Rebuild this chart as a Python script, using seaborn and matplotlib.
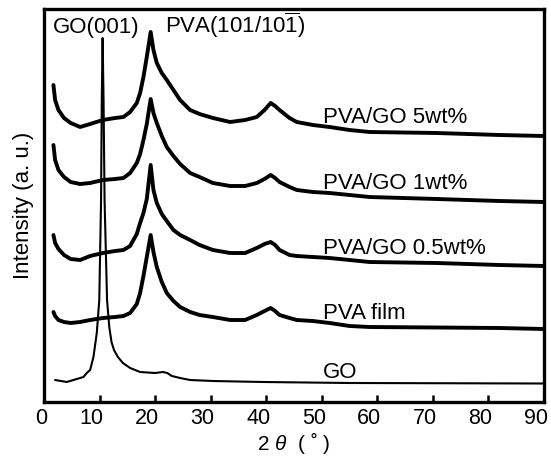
import matplotlib
matplotlib.use("Agg")
import matplotlib.pyplot as plt
import matplotlib.transforms as mtransforms
import seaborn as sns
import pandas as pd

# ---- data (2theta in degrees, intensity in arbitrary units) ----
two_theta_pva = [1.7, 2.0, 2.6, 3.6, 4.8, 6.5, 8.3, 10.6, 12.8, 14.3, 15.5, 16.7, 17.3,
                 17.9, 18.5, 19.2, 19.7, 20.3, 21.2, 22.1, 23.3, 24.5, 26.3, 28.0, 30.4,
                 33.5, 36.2, 38.3, 39.7, 40.8, 41.6, 42.4, 44.2, 45.5, 48.4, 51.4, 55.0,
                 58.6, 70.7, 82.0, 90.0]

pva_go_5 = [317, 302, 292, 284, 279, 275, 278, 282, 284, 285, 290, 299, 309,
            325, 345, 370, 352, 339, 329, 322, 312, 302, 292, 288, 284,
            280, 282, 285, 292, 299, 296, 292, 284, 280, 277, 275, 272,
            270, 269, 267, 266]

pva_go_1 = [257, 242, 232, 225, 220, 218, 219, 222, 223, 224, 229, 239, 248,
            262, 278, 303, 289, 279, 266, 255, 246, 238, 229, 225, 219,
            216, 216, 219, 223, 227, 224, 220, 215, 212, 210, 209, 207,
            205, 203, 201, 200]

pva_go_05 = [167, 159, 153, 147, 143, 142, 146, 149, 151, 152, 156, 168, 179,
             189, 203, 237, 212, 199, 188, 181, 172, 167, 162, 157, 152,
             149, 149, 154, 158, 160, 157, 152, 147, 146, 145, 144, 142,
             140, 139, 137, 136]

pva_film = [90, 86, 82, 80, 79, 80, 82, 84, 85, 86, 89, 98, 109,
            126, 145, 167, 150, 135, 120, 109, 101, 95, 90, 87, 85,
            82, 82, 87, 91, 94, 91, 87, 84, 82, 81, 79, 76,
            75, 74.5, 74, 73]

two_theta_go = [2.0, 4.1, 5.3, 7.1, 7.7, 8.3, 8.9, 9.5, 9.95, 10.27, 10.4, 10.55, 10.72,
                10.9, 11.35, 11.75, 12.15, 12.6, 13.3, 14.2, 15.5, 17.3, 20.0, 21.4,
                22.2, 23.0, 24.5, 26.3, 30.4, 39.4, 55.0, 90.0]
go = [22, 20, 22, 25, 29, 32, 45, 69, 102, 202, 302, 364, 302,
      202, 102, 75, 60, 52, 45, 39, 34, 30, 29, 30,
      29, 26, 24, 22, 21, 20, 19, 18.5]

series_names = ["PVA/GO 5wt%", "PVA/GO 1wt%", "PVA/GO 0.5wt%", "PVA film"]
label_y = [278.7, 212.7, 148, 83]
go_label = "GO"
go_label_y = 23.7
xticks = [0, 10, 20, 30, 40, 50, 60, 70, 80, 90]

# ---- build long table ----
rows = []
for name, vals in zip(series_names, [pva_go_5, pva_go_1, pva_go_05, pva_film]):
    for x, y in zip(two_theta_pva, vals):
        rows.append({"two_theta": x, "intensity": y, "sample": name})
df_pva = pd.DataFrame(rows)
df_go = pd.DataFrame({"two_theta": two_theta_go, "intensity": go, "sample": "GO"})

sns.set_style("white")
plt.rcParams["font.family"] = ["Liberation Sans", "DejaVu Sans"]
plt.rcParams["mathtext.fontset"] = "custom"
plt.rcParams["mathtext.rm"] = "Liberation Sans"
plt.rcParams["mathtext.it"] = "Liberation Sans:italic"
plt.rcParams["text.color"] = "black"
plt.rcParams["axes.labelcolor"] = "black"
plt.rcParams["xtick.color"] = "black"

FS = 16
fig = plt.figure(figsize=(5.51, 4.57), dpi=100)
ax = fig.add_axes([44 / 551, 55 / 457, 500 / 551, 393 / 457])

sns.lineplot(data=df_pva, x="two_theta", y="intensity", hue="sample",
             palette={n: "black" for n in series_names}, linewidth=2.8,
             legend=False, ax=ax, estimator=None, sort=False)
sns.lineplot(data=df_go, x="two_theta", y="intensity", color="black",
             linewidth=1.5, legend=False, ax=ax, estimator=None, sort=False)

ax.set_xlim(0, 90)
ax.set_ylim(0, 393)
ax.set_xticks(xticks)
ax.set_yticks([])
ax.tick_params(axis="x", direction="in", length=5, width=1.8, labelsize=15.5,
               pad=4, bottom=True, top=False, colors="black")
for sp in ax.spines.values():
    sp.set_linewidth(2.4)
    sp.set_color("black")
    sp.set_visible(True)

# tick labels sit slightly left of their ticks in the reference
for i, lab in enumerate(ax.get_xticklabels()):
    dx = -3 if i == 0 else -8
    lab.set_transform(lab.get_transform() +
                      mtransforms.ScaledTranslation(dx / 100, 0, fig.dpi_scale_trans))

ax.set_xlabel(r"2 $\mathit{\theta}$  ( ˚ )", fontsize=15, labelpad=1)
ax.set_ylabel("Intensity (a. u.)", fontsize=FS, labelpad=7)

for name, yv in zip(series_names, label_y):
    ax.text(50.2, yv, name, fontsize=FS, va="baseline", ha="left")
ax.text(50.2, go_label_y, go_label, fontsize=FS, va="baseline", ha="left")
ax.text(1.67, 369, "GO(001)", fontsize=FS, va="baseline", ha="left")
ax.text(21.8, 369, r"PVA(101/10$\mathrm{\overline{1}}$)", fontsize=FS,
        va="baseline", ha="left")

fig.savefig("out.png", dpi=100)
